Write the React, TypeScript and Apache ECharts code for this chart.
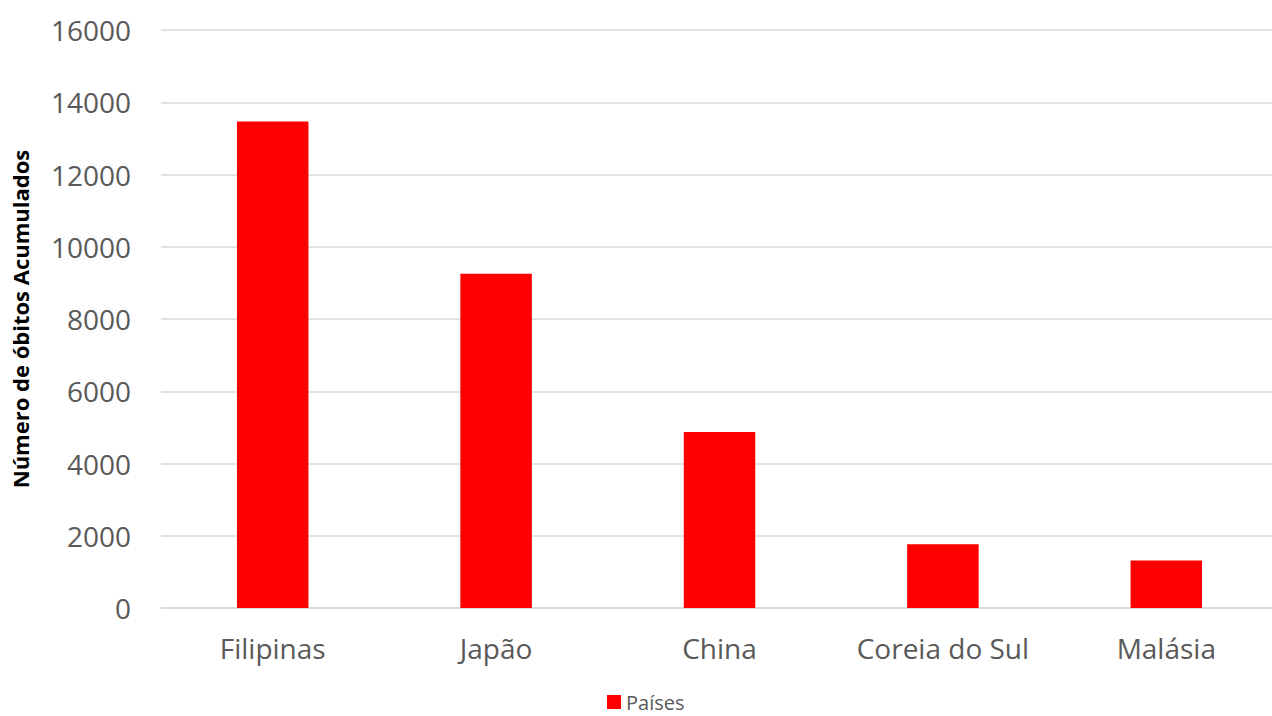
import React, { useEffect, useRef } from "react";
import * as echarts from "echarts";

const categories = ["Filipinas", "Japão", "China", "Coreia do Sul", "Malásia"];
const deaths = [13470, 9250, 4870, 1765, 1313];
const seriesName = "Países";
const yAxisTitle = "Número de óbitos Acumulados";

export default function App() {
  const ref = useRef<HTMLDivElement>(null);
  useEffect(() => {
    document.body.style.margin = "0";
    const chart = echarts.init(ref.current!, null, { renderer: "svg" });
    chart.setOption({
      animation: false,
      backgroundColor: "#ffffff",
      grid: { left: 161, top: 30, width: 1117, bottom: 108, containLabel: false },
      legend: {
        data: [seriesName],
        top: 692,
        left: 607,
        padding: 0,
        itemWidth: 14,
        itemHeight: 14,
        itemGap: 5,
        icon: "rect",
        textStyle: { fontFamily: "Open Sans", fontSize: 20, lineHeight: 20, color: "#595959" },
      },
      xAxis: {
        type: "category",
        data: categories,
        axisLine: { show: true, lineStyle: { color: "#d9d9d9", width: 1.5 } },
        axisTick: { show: false },
        axisLabel: { fontFamily: "Open Sans", fontSize: 28, color: "#595959", margin: 26, interval: 0 },
      },
      yAxis: {
        type: "value",
        min: 0,
        max: 16000,
        interval: 2000,
        name: yAxisTitle,
        nameLocation: "middle",
        nameGap: 130,
        nameTextStyle: { fontFamily: "Open Sans", fontSize: 22, fontWeight: "bold", color: "#000000" },
        axisLine: { show: false },
        axisTick: { show: false },
        splitLine: { lineStyle: { color: "#d9d9d9", width: 1.5 } },
        axisLabel: {
          fontFamily: "Open Sans",
          fontSize: 28,
          color: "#595959",
          margin: 30,
          formatter: (v: number) => String(v),
        },
      },
      series: [
        {
          name: seriesName,
          type: "bar",
          data: deaths,
          barWidth: "32%",
          itemStyle: { color: "#ff0000" },
        },
      ],
    });
    return () => chart.dispose();
  }, []);
  return (
    <div style={{ width: 1272, height: 716, position: "absolute", left: 0, top: 0, overflow: "hidden", background: "#fff" }}>
      <div ref={ref} style={{ width: 1290, height: 716 }} />
    </div>
  );
}
